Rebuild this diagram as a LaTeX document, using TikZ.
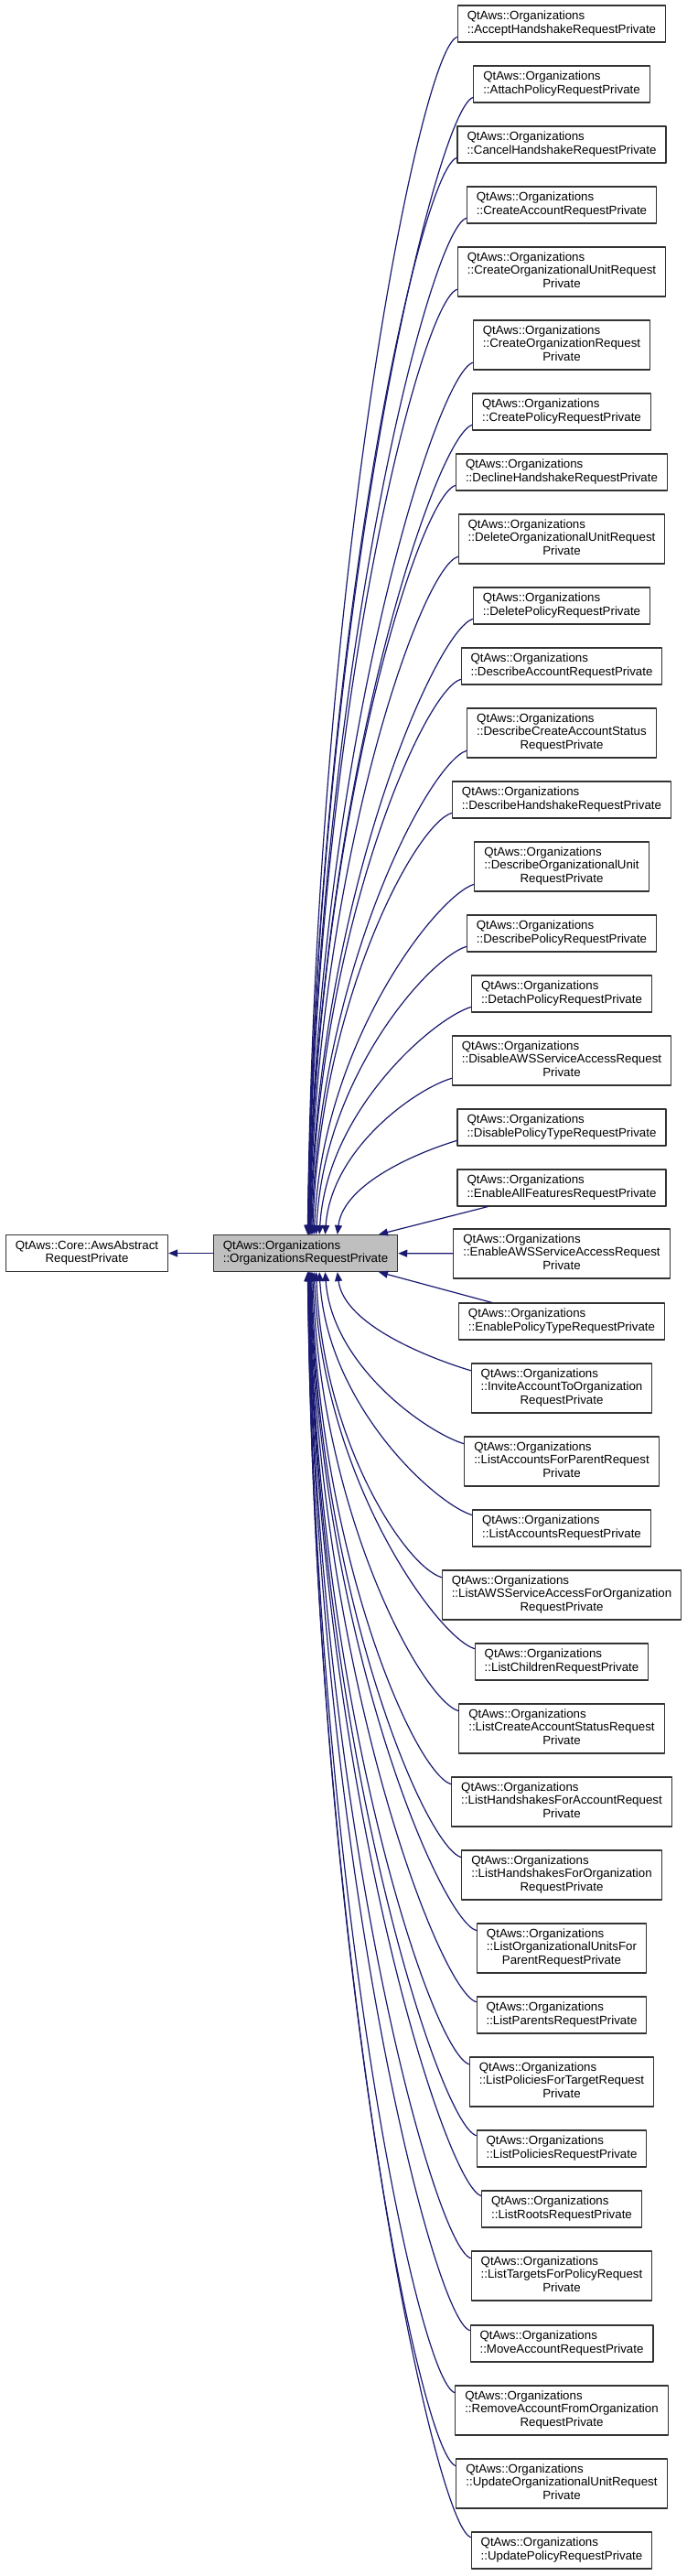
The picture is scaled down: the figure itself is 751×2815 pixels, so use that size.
\documentclass[tikz,border=0pt]{standalone}
\usepackage{fontspec}
\setmainfont{Liberation Sans}
\usetikzlibrary{arrows.meta,calc}

\definecolor{edgeblue}{HTML}{191970}
\definecolor{nodegray}{HTML}{BFBFBF}

\newcommand{\orgtwo}[1]{\begin{tabular}{@{}l@{}}QtAws::Organizations\\::#1\end{tabular}}
\newcommand{\orgthree}[2]{\begin{tabular}{@{}c@{}}\begin{tabular}[b]{@{}l@{}}QtAws::Organizations\\::#1\end{tabular}\\#2\end{tabular}}

\tikzset{
  cls/.style={draw=black!80,line width=1.1pt,rectangle,inner xsep=10.5pt,inner ysep=0pt,
    minimum height=40pt,font=\fontsize{13.3}{14.3}\selectfont},
  clsthree/.style={cls,minimum height=54pt},
  inh/.style={draw=edgeblue,line width=1.2pt,{Triangle[length=10pt,width=8pt]}-},
}

\begin{document}
\begin{tikzpicture}[x=1pt,y=-1pt,line cap=round,line join=round]
  \useasboundingbox (0,0) rectangle (751,2815);
  % base classes
  \node[cls] (awsabstract) at (95,1369.5) {\begin{tabular}{@{}c@{}}QtAws::Core::AwsAbstract\\RequestPrivate\end{tabular}};
  \node[cls,fill=nodegray] (orgrequest) at (334,1369.5) {\orgtwo{OrganizationsRequestPrivate}};
  % derived classes
  \node[cls] (accept) at (614,26) {\orgtwo{AcceptHandshakeRequestPrivate}};
  \node[cls] (attach) at (614,92) {\orgtwo{AttachPolicyRequestPrivate}};
  \node[cls] (cancel) at (614,158) {\orgtwo{CancelHandshakeRequestPrivate}};
  \node[cls] (createaccount) at (614,224) {\orgtwo{CreateAccountRequestPrivate}};
  \node[clsthree] (createou) at (614,297) {\orgthree{CreateOrganizationalUnitRequest}{Private}};
  \node[clsthree] (createorg) at (614,377) {\orgthree{CreateOrganizationRequest}{Private}};
  \node[cls] (createpolicy) at (614,450) {\orgtwo{CreatePolicyRequestPrivate}};
  \node[cls] (decline) at (614,516) {\orgtwo{DeclineHandshakeRequestPrivate}};
  \node[clsthree] (deleteou) at (614,589) {\orgthree{DeleteOrganizationalUnitRequest}{Private}};
  \node[cls] (deletepolicy) at (614,662) {\orgtwo{DeletePolicyRequestPrivate}};
  \node[cls] (describeaccount) at (614,728) {\orgtwo{DescribeAccountRequestPrivate}};
  \node[clsthree] (describestatus) at (614,801) {\orgthree{DescribeCreateAccountStatus}{RequestPrivate}};
  \node[cls] (describehandshake) at (614,874) {\orgtwo{DescribeHandshakeRequestPrivate}};
  \node[clsthree] (describeou) at (614,947) {\orgthree{DescribeOrganizationalUnit}{RequestPrivate}};
  \node[cls] (describepolicy) at (614,1020) {\orgtwo{DescribePolicyRequestPrivate}};
  \node[cls] (detachpolicy) at (614,1086) {\orgtwo{DetachPolicyRequestPrivate}};
  \node[clsthree] (disableaws) at (614,1159) {\orgthree{DisableAWSServiceAccessRequest}{Private}};
  \node[cls] (disabletype) at (614,1232) {\orgtwo{DisablePolicyTypeRequestPrivate}};
  \node[cls] (enableall) at (614,1298) {\orgtwo{EnableAllFeaturesRequestPrivate}};
  \node[clsthree] (enableaws) at (614,1370) {\orgthree{EnableAWSServiceAccessRequest}{Private}};
  \node[cls] (enabletype) at (614,1444) {\orgtwo{EnablePolicyTypeRequestPrivate}};
  \node[clsthree] (invite) at (614,1517) {\orgthree{InviteAccountToOrganization}{RequestPrivate}};
  \node[clsthree] (listaccountsparent) at (614,1597) {\orgthree{ListAccountsForParentRequest}{Private}};
  \node[cls] (listaccounts) at (614,1670) {\orgtwo{ListAccountsRequestPrivate}};
  \node[clsthree] (listawsaccess) at (614,1743) {\orgthree{ListAWSServiceAccessForOrganization}{RequestPrivate}};
  \node[cls] (listchildren) at (614,1816) {\orgtwo{ListChildrenRequestPrivate}};
  \node[clsthree] (liststatus) at (614,1889) {\orgthree{ListCreateAccountStatusRequest}{Private}};
  \node[clsthree] (listhsaccount) at (614,1969) {\orgthree{ListHandshakesForAccountRequest}{Private}};
  \node[clsthree] (listhsorg) at (614,2049) {\orgthree{ListHandshakesForOrganization}{RequestPrivate}};
  \node[clsthree] (listouparent) at (614,2129) {\orgthree{ListOrganizationalUnitsFor}{ParentRequestPrivate}};
  \node[cls] (listparents) at (614,2202) {\orgtwo{ListParentsRequestPrivate}};
  \node[clsthree] (listpoltarget) at (614,2275) {\orgthree{ListPoliciesForTargetRequest}{Private}};
  \node[cls] (listpolicies) at (614,2348) {\orgtwo{ListPoliciesRequestPrivate}};
  \node[cls] (listroots) at (614,2414) {\orgtwo{ListRootsRequestPrivate}};
  \node[clsthree] (listtargets) at (614,2487) {\orgthree{ListTargetsForPolicyRequest}{Private}};
  \node[cls] (moveaccount) at (614,2561) {\orgtwo{MoveAccountRequestPrivate}};
  \node[clsthree] (removeaccount) at (614,2634) {\orgthree{RemoveAccountFromOrganization}{RequestPrivate}};
  \node[clsthree] (updateou) at (614,2714) {\orgthree{UpdateOrganizationalUnitRequest}{Private}};
  \node[cls] (updatepolicy) at (614,2787) {\orgtwo{UpdatePolicyRequestPrivate}};
  % inheritance edges
  \draw[inh] (awsabstract) -- (orgrequest);
  \draw[inh] (orgrequest) -- (enableaws);
  \draw[inh] (414,0 |- orgrequest.north) -- (enableall);
  \draw[inh] (414,0 |- orgrequest.south) -- (enabletype);
  \foreach \n/\d in {accept/18,attach/17,cancel/16,createaccount/15,createou/14,createorg/13,
      createpolicy/12,decline/11,deleteou/10,deletepolicy/9,describeaccount/8,describestatus/7,
      describehandshake/6,describeou/5,describepolicy/4,detachpolicy/3,disableaws/2,disabletype/1} {
    \pgfmathsetmacro\xa{334+80/(\d+1)^1.2}
    \coordinate (tip) at (\xa,0 |- orgrequest.north);
    \coordinate (foot) at ($(\n.south west)!0.15!(\n.north west)$);
    \draw[inh] let \p1=($(tip)!0.05!(foot)$), \p2=($(tip)!0.55!(foot)$) in
      (tip) .. controls (\x1,\y2) and ($(foot)+(-40,12)$) .. (foot);
  }
  \foreach \n/\d in {invite/1,listaccountsparent/2,listaccounts/3,listawsaccess/4,listchildren/5,
      liststatus/6,listhsaccount/7,listhsorg/8,listouparent/9,listparents/10,listpoltarget/11,
      listpolicies/12,listroots/13,listtargets/14,moveaccount/15,removeaccount/16,updateou/17,
      updatepolicy/18} {
    \pgfmathsetmacro\xa{334+80/(\d+1)^1.2}
    \coordinate (tip) at (\xa,0 |- orgrequest.south);
    \coordinate (foot) at ($(\n.north west)!0.15!(\n.south west)$);
    \draw[inh] let \p1=($(tip)!0.05!(foot)$), \p2=($(tip)!0.55!(foot)$) in
      (tip) .. controls (\x1,\y2) and ($(foot)+(-40,-12)$) .. (foot);
  }
\end{tikzpicture}
\end{document}
